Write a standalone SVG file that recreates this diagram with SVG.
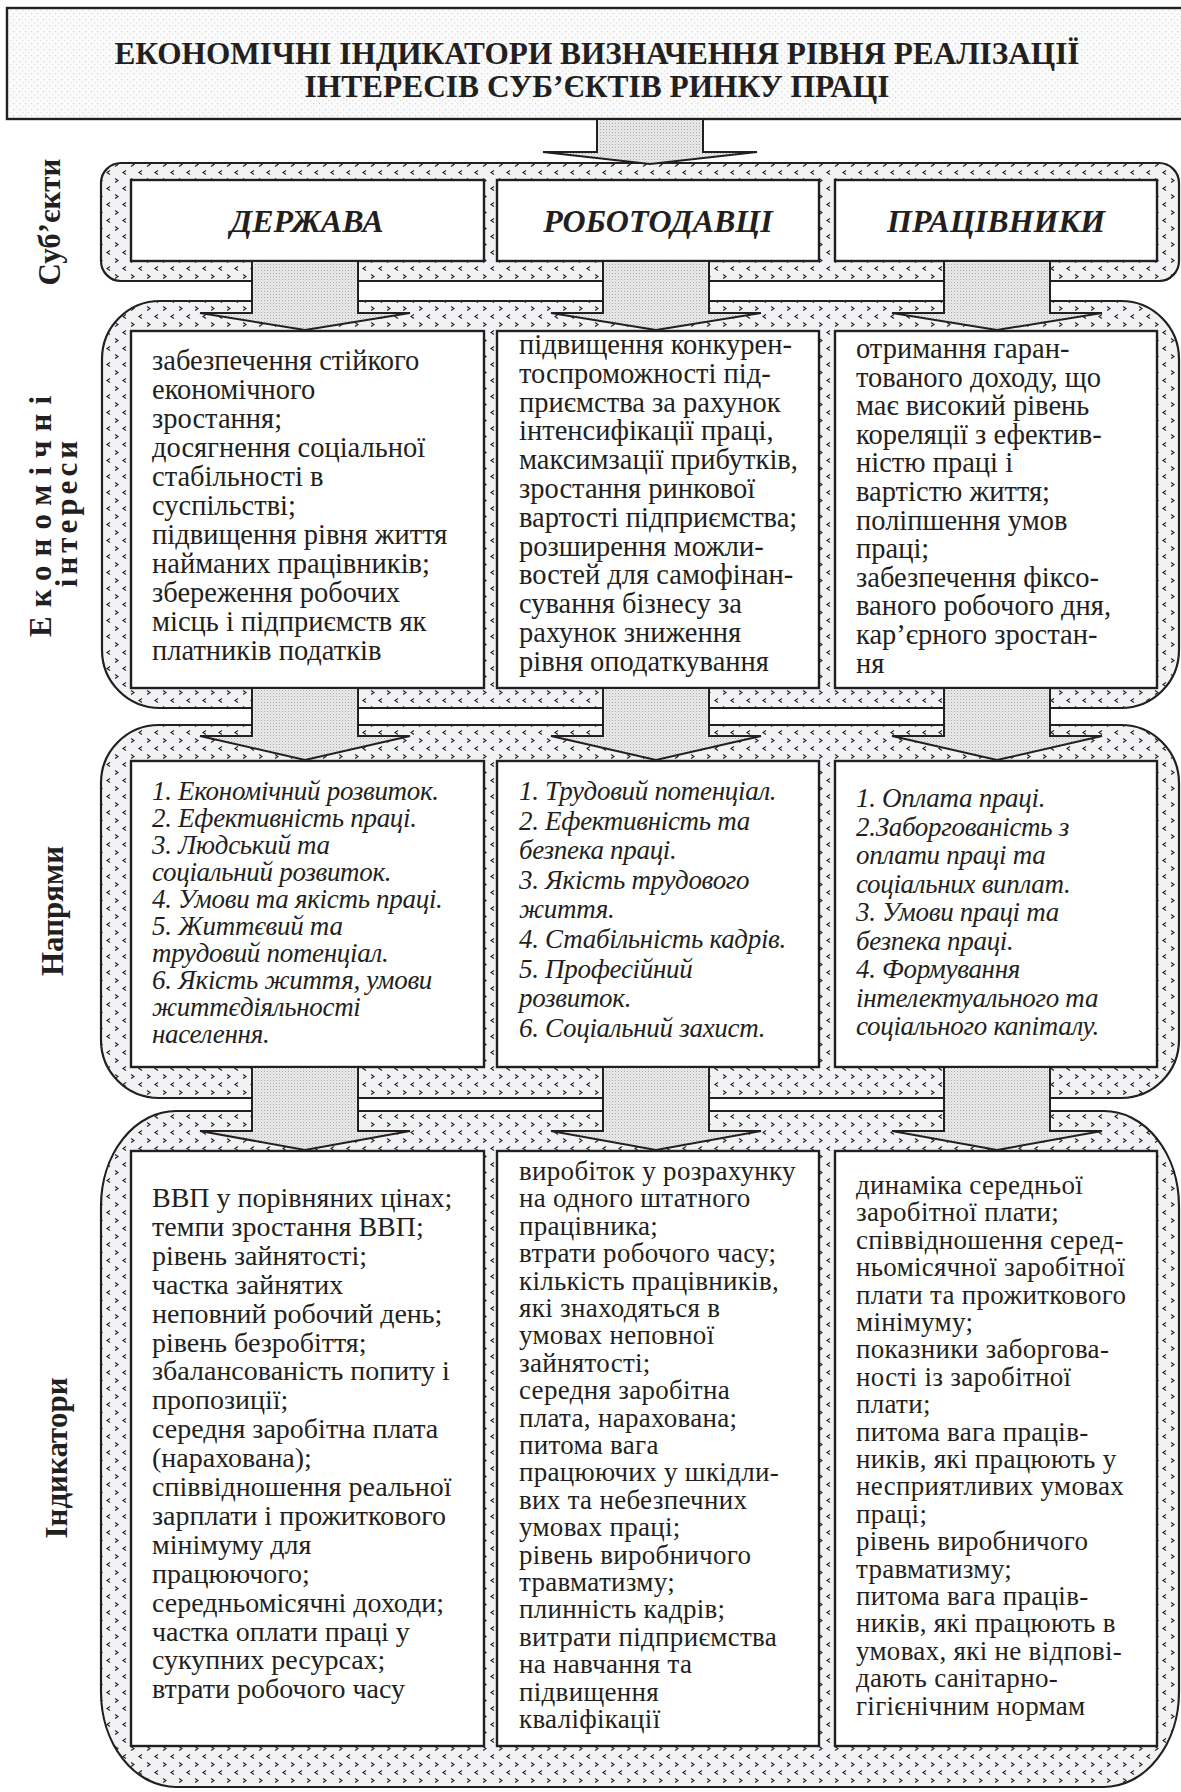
<svg xmlns="http://www.w3.org/2000/svg" width="1181" height="1792" viewBox="0 0 1181 1792">
<defs>
<pattern id="chev" width="16" height="16" patternUnits="userSpaceOnUse">
<rect width="16" height="16" fill="#f1f2f4"/>
<path d="M3,2.5 L6,4.5 L3,6.5" fill="none" stroke="#231f20" stroke-width="1.1"/>
<path d="M14,10.5 L11,12.5 L14,14.5" fill="none" stroke="#231f20" stroke-width="1.1"/>
</pattern>
<pattern id="stip" width="3" height="3" patternUnits="userSpaceOnUse">
<rect width="3" height="3" fill="#ebebeb"/>
<rect x="0" y="0" width="1" height="1" fill="#a8a8a8"/>
<rect x="1.5" y="1.5" width="1" height="1" fill="#c4c4c4"/>
</pattern>
<pattern id="dots" width="6" height="6" patternUnits="userSpaceOnUse">
<rect width="6" height="6" fill="#fbfbfb"/>
<rect x="1" y="1" width="1.3" height="1.3" fill="#d6d6d6"/>
<rect x="4" y="4" width="1.3" height="1.3" fill="#e2e2e2"/>
</pattern>
</defs>
<style>
.band{fill:url(#chev);stroke:#231f20;stroke-width:2.2}
.box{fill:#fff;stroke:#231f20;stroke-width:2.4}
.arrow{fill:url(#stip);stroke:#231f20;stroke-width:2;stroke-linejoin:miter}
.t{font-family:"Liberation Serif","Times New Roman",serif;fill:#231f20}
.title{font-size:31px;font-weight:bold;text-anchor:middle}
.subj{font-size:32px;font-weight:bold;font-style:italic;text-anchor:middle}
.side{font-size:31px;font-weight:bold;text-anchor:middle}
.r2{font-size:28.5px}
.r3{font-size:27px;font-style:italic;letter-spacing:-0.3px}
.r4{font-size:27px;letter-spacing:0.3px}
.r4a{font-size:28px}
</style>
<rect width="1181" height="1792" fill="#fff"/>

<g id="title">
<rect x="7" y="8" width="1180" height="111" fill="url(#dots)" stroke="#231f20" stroke-width="2.4"/>
<text class="t title" x="597" y="64" textLength="965" lengthAdjust="spacingAndGlyphs">ЕКОНОМІЧНІ ІНДИКАТОРИ ВИЗНАЧЕННЯ РІВНЯ РЕАЛІЗАЦІЇ</text>
<text class="t title" x="597" y="97" textLength="585" lengthAdjust="spacingAndGlyphs">ІНТЕРЕСІВ СУБ’ЄКТІВ РИНКУ ПРАЦІ</text>
</g>

<g id="bands">
<rect id="band-subjects" class="band" x="101" y="163" width="1078" height="118" rx="20"/>
<rect id="band-interests" class="band" x="102" y="301" width="1077" height="407" rx="58"/>
<rect id="band-directions" class="band" x="101" y="725" width="1078" height="373" rx="58"/>
<rect id="band-indicators" class="band" x="101" y="1111" width="1078" height="676" rx="75" ry="95"/>
</g>

<g id="labels">
<text class="t side" transform="translate(60,222) rotate(-90)">Суб’єкти</text>
<text class="t side" transform="translate(51,512) rotate(-90)" letter-spacing="9">Економічні</text>
<text class="t side" transform="translate(77,512) rotate(-90)" letter-spacing="4">інтереси</text>
<text class="t side" transform="translate(63,911) rotate(-90)">Напрями</text>
<text class="t side" transform="translate(67,1458) rotate(-90)">Індикатори</text>
</g>

<g id="subject-derzhava">
<rect class="box" x="131" y="180" width="353" height="81"/>
<text class="t subj" x="307" y="232">ДЕРЖАВА</text>
</g>
<g id="subject-robotodavtsi">
<rect class="box" x="497" y="180" width="322" height="81"/>
<text class="t subj" x="658" y="232">РОБОТОДАВЦІ</text>
</g>
<g id="subject-pratsivnyky">
<rect class="box" x="835" y="180" width="322" height="81"/>
<text class="t subj" x="996" y="232">ПРАЦІВНИКИ</text>
</g>

<g id="interest-derzhava">
<rect class="box" x="131" y="331" width="353" height="357"/>
<text class="t r2">
<tspan x="152" y="370">забезпечення стійкого</tspan>
<tspan x="152" y="399">економічного</tspan>
<tspan x="152" y="428">зростання;</tspan>
<tspan x="152" y="457">досягнення соціальної</tspan>
<tspan x="152" y="486">стабільності в</tspan>
<tspan x="152" y="515">суспільстві;</tspan>
<tspan x="152" y="544">підвищення рівня життя</tspan>
<tspan x="152" y="573">найманих працівників;</tspan>
<tspan x="152" y="602">збереження робочих</tspan>
<tspan x="152" y="631">місць і підприємств як</tspan>
<tspan x="152" y="660">платників податків</tspan>
</text>
</g>
<g id="interest-robotodavtsi">
<rect class="box" x="497" y="331" width="322" height="357"/>
<text class="t r2">
<tspan x="519" y="354">підвищення конкурен-</tspan>
<tspan x="519" y="382.8">тоспроможності під-</tspan>
<tspan x="519" y="411.6">приємства за рахунок</tspan>
<tspan x="519" y="440.4">інтенсифікації праці,</tspan>
<tspan x="519" y="469.2">максимзації прибутків,</tspan>
<tspan x="519" y="498">зростання ринкової</tspan>
<tspan x="519" y="526.8">вартості підприємства;</tspan>
<tspan x="519" y="555.6">розширення можли-</tspan>
<tspan x="519" y="584.4">востей для самофінан-</tspan>
<tspan x="519" y="613.2">сування бізнесу за</tspan>
<tspan x="519" y="642">рахунок зниження</tspan>
<tspan x="519" y="670.8">рівня оподаткування</tspan>
</text>
</g>
<g id="interest-pratsivnyky">
<rect class="box" x="835" y="331" width="322" height="357"/>
<text class="t r2">
<tspan x="856" y="358">отримання гаран-</tspan>
<tspan x="856" y="386.6">тованого доходу, що</tspan>
<tspan x="856" y="415.2">має високий рівень</tspan>
<tspan x="856" y="443.8">кореляції з ефектив-</tspan>
<tspan x="856" y="472.4">ністю праці і</tspan>
<tspan x="856" y="501">вартістю життя;</tspan>
<tspan x="856" y="529.6">поліпшення умов</tspan>
<tspan x="856" y="558.2">праці;</tspan>
<tspan x="856" y="586.8">забезпечення фіксо-</tspan>
<tspan x="856" y="615.4">ваного робочого дня,</tspan>
<tspan x="856" y="644">кар’єрного зростан-</tspan>
<tspan x="856" y="672.6">ня</tspan>
</text>
</g>

<g id="direction-derzhava">
<rect class="box" x="131" y="761" width="353" height="306"/>
<text class="t r3">
<tspan x="152" y="800">1. Економічний розвиток.</tspan>
<tspan x="152" y="827">2. Ефективність праці.</tspan>
<tspan x="152" y="854">3. Людський та</tspan>
<tspan x="152" y="881">соціальний розвиток.</tspan>
<tspan x="152" y="908">4. Умови та якість праці.</tspan>
<tspan x="152" y="935">5. Життєвий та</tspan>
<tspan x="152" y="962">трудовий потенціал.</tspan>
<tspan x="152" y="989">6. Якість життя, умови</tspan>
<tspan x="152" y="1016">життєдіяльності</tspan>
<tspan x="152" y="1043">населення.</tspan>
</text>
</g>
<g id="direction-robotodavtsi">
<rect class="box" x="497" y="761" width="322" height="306"/>
<text class="t r3">
<tspan x="519" y="800">1. Трудовий потенціал.</tspan>
<tspan x="519" y="829.6">2. Ефективність та</tspan>
<tspan x="519" y="859.2">безпека праці.</tspan>
<tspan x="519" y="888.8">3. Якість трудового</tspan>
<tspan x="519" y="918.4">життя.</tspan>
<tspan x="519" y="948">4. Стабільність кадрів.</tspan>
<tspan x="519" y="977.6">5. Професійний</tspan>
<tspan x="519" y="1007.2">розвиток.</tspan>
<tspan x="519" y="1036.8">6. Соціальний захист.</tspan>
</text>
</g>
<g id="direction-pratsivnyky">
<rect class="box" x="835" y="761" width="322" height="306"/>
<text class="t r3">
<tspan x="856" y="807">1. Оплата праці.</tspan>
<tspan x="856" y="835.5">2.Заборгованість з</tspan>
<tspan x="856" y="864">оплати праці та</tspan>
<tspan x="856" y="892.5">соціальних виплат.</tspan>
<tspan x="856" y="921">3. Умови праці та</tspan>
<tspan x="856" y="949.5">безпека праці.</tspan>
<tspan x="856" y="978">4. Формування</tspan>
<tspan x="856" y="1006.5">інтелектуального та</tspan>
<tspan x="856" y="1035">соціального капіталу.</tspan>
</text>
</g>

<g id="indicator-derzhava">
<rect class="box" x="131" y="1151" width="353" height="595"/>
<text class="t r4a">
<tspan x="152" y="1207">ВВП у порівняних цінах;</tspan>
<tspan x="152" y="1235.9">темпи зростання ВВП;</tspan>
<tspan x="152" y="1264.8">рівень зайнятості;</tspan>
<tspan x="152" y="1293.7">частка зайнятих</tspan>
<tspan x="152" y="1322.6">неповний робочий день;</tspan>
<tspan x="152" y="1351.5">рівень безробіття;</tspan>
<tspan x="152" y="1380.4">збалансованість попиту і</tspan>
<tspan x="152" y="1409.3">пропозиції;</tspan>
<tspan x="152" y="1438.2">середня заробітна плата</tspan>
<tspan x="152" y="1467.1">(нарахована);</tspan>
<tspan x="152" y="1496">співвідношення реальної</tspan>
<tspan x="152" y="1524.9">зарплати і прожиткового</tspan>
<tspan x="152" y="1553.8">мінімуму для</tspan>
<tspan x="152" y="1582.7">працюючого;</tspan>
<tspan x="152" y="1611.6">середньомісячні доходи;</tspan>
<tspan x="152" y="1640.5">частка оплати праці у</tspan>
<tspan x="152" y="1669.4">сукупних ресурсах;</tspan>
<tspan x="152" y="1698.3">втрати робочого часу</tspan>
</text>
</g>
<g id="indicator-robotodavtsi">
<rect class="box" x="497" y="1151" width="322" height="595"/>
<text class="t r4">
<tspan x="519" y="1180">виробіток у розрахунку</tspan>
<tspan x="519" y="1207.4">на одного штатного</tspan>
<tspan x="519" y="1234.8">працівника;</tspan>
<tspan x="519" y="1262.2">втрати робочого часу;</tspan>
<tspan x="519" y="1289.6">кількість працівників,</tspan>
<tspan x="519" y="1317">які знаходяться в</tspan>
<tspan x="519" y="1344.4">умовах неповної</tspan>
<tspan x="519" y="1371.8">зайнятості;</tspan>
<tspan x="519" y="1399.2">середня заробітна</tspan>
<tspan x="519" y="1426.6">плата, нарахована;</tspan>
<tspan x="519" y="1454">питома вага</tspan>
<tspan x="519" y="1481.4">працюючих у шкідли-</tspan>
<tspan x="519" y="1508.8">вих та небезпечних</tspan>
<tspan x="519" y="1536.2">умовах праці;</tspan>
<tspan x="519" y="1563.6">рівень виробничого</tspan>
<tspan x="519" y="1591">травматизму;</tspan>
<tspan x="519" y="1618.4">плинність кадрів;</tspan>
<tspan x="519" y="1645.8">витрати підприємства</tspan>
<tspan x="519" y="1673.2">на навчання та</tspan>
<tspan x="519" y="1700.6">підвищення</tspan>
<tspan x="519" y="1728">кваліфікації</tspan>
</text>
</g>
<g id="indicator-pratsivnyky">
<rect class="box" x="835" y="1151" width="322" height="595"/>
<text class="t r4">
<tspan x="856" y="1194">динаміка середньої</tspan>
<tspan x="856" y="1221.4">заробітної плати;</tspan>
<tspan x="856" y="1248.8">співвідношення серед-</tspan>
<tspan x="856" y="1276.2">ньомісячної заробітної</tspan>
<tspan x="856" y="1303.6">плати та прожиткового</tspan>
<tspan x="856" y="1331">мінімуму;</tspan>
<tspan x="856" y="1358.4">показники заборгова-</tspan>
<tspan x="856" y="1385.8">ності із заробітної</tspan>
<tspan x="856" y="1413.2">плати;</tspan>
<tspan x="856" y="1440.6">питома вага праців-</tspan>
<tspan x="856" y="1468">ників, які працюють у</tspan>
<tspan x="856" y="1495.4">несприятливих умовах</tspan>
<tspan x="856" y="1522.8">праці;</tspan>
<tspan x="856" y="1550.2">рівень виробничого</tspan>
<tspan x="856" y="1577.6">травматизму;</tspan>
<tspan x="856" y="1605">питома вага праців-</tspan>
<tspan x="856" y="1632.4">ників, які працюють в</tspan>
<tspan x="856" y="1659.8">умовах, які не відпові-</tspan>
<tspan x="856" y="1687.2">дають санітарно-</tspan>
<tspan x="856" y="1714.6">гігієнічним нормам</tspan>
</text>
</g>

<g id="connectors">
<path class="arrow" d="M597,119 H703 V152 H757 L650,164 L543,152 H597 Z"/>
<path class="arrow" d="M252,261 H358 V313 H410 L305,330 L200,313 H252 Z"/>
<path class="arrow" d="M603,261 H709 V313 H761 L656,330 L551,313 H603 Z"/>
<path class="arrow" d="M944,261 H1050 V313 H1102 L997,330 L892,313 H944 Z"/>
<path class="arrow" d="M252,688 H358 V736 H410 L305,760 L200,736 H252 Z"/>
<path class="arrow" d="M603,688 H709 V736 H761 L656,760 L551,736 H603 Z"/>
<path class="arrow" d="M944,688 H1050 V736 H1102 L997,760 L892,736 H944 Z"/>
<path class="arrow" d="M252,1067 H358 V1131 H410 L305,1150 L200,1131 H252 Z"/>
<path class="arrow" d="M603,1067 H709 V1131 H761 L656,1150 L551,1131 H603 Z"/>
<path class="arrow" d="M944,1067 H1050 V1131 H1102 L997,1150 L892,1131 H944 Z"/>
</g>
</svg>
